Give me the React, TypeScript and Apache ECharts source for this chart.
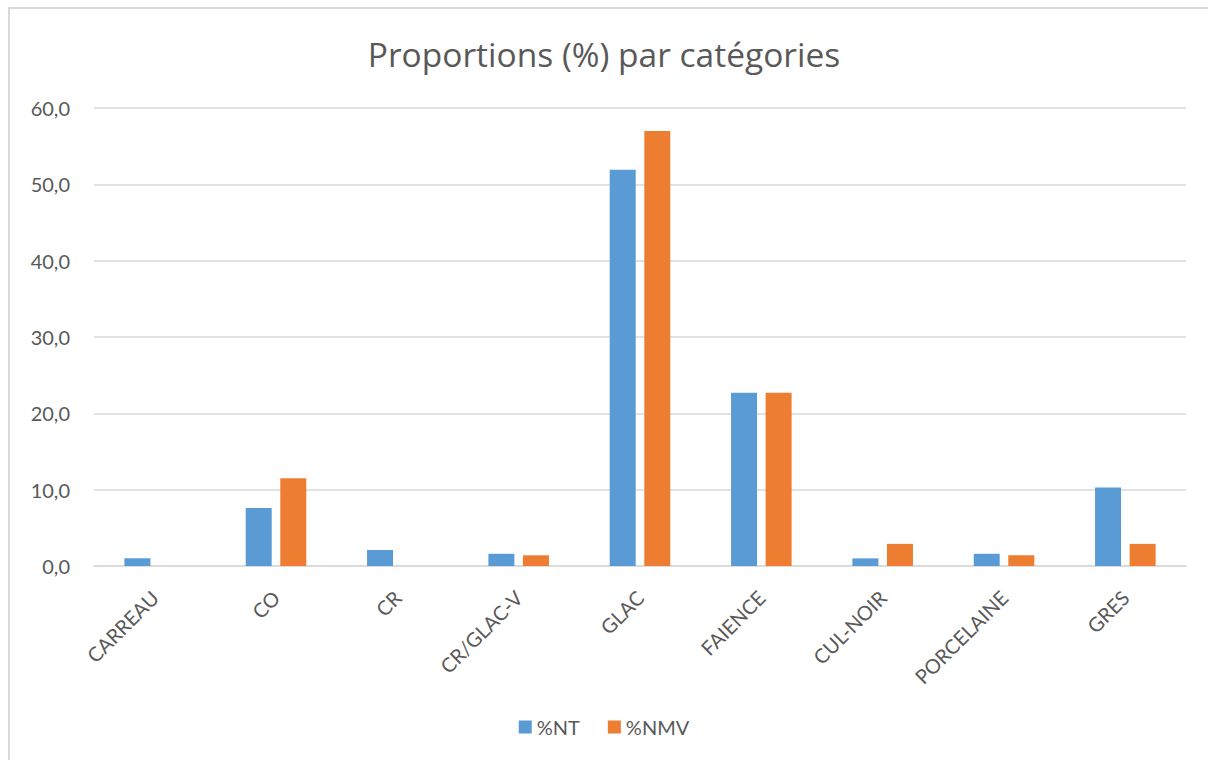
import React, { useEffect, useRef } from "react";
import * as echarts from "echarts";

const categories = ["CARREAU", "CO", "CR", "CR/GLAC-V", "GLAC", "FAIENCE", "CUL-NOIR", "PORCELAINE", "GRES"];
const seriesNT = [1.0, 7.6, 2.1, 1.6, 51.9, 22.7, 1.0, 1.6, 10.3];
const seriesNMV = [0, 11.5, 0, 1.4, 57.0, 22.7, 2.9, 1.4, 2.9];
const seriesNames = ["%NT", "%NMV"];
const yTicks = { min: 0, max: 60, interval: 10 };

const FONT = "Lato, 'Open Sans', sans-serif";
const TXT = "#595959";

export default function App() {
  const ref = useRef<HTMLDivElement>(null);
  useEffect(() => {
    document.body.style.margin = "0";
    if (!ref.current) return;
    const chart = echarts.init(ref.current, null, { renderer: "svg" });
    chart.setOption({
      animation: false,
      backgroundColor: "#ffffff",
      textStyle: { fontFamily: FONT },
      title: {
        text: "Proportions (%) par catégories",
        left: "center",
        top: 32,
        textStyle: { fontFamily: "'Open Sans', Lato, sans-serif", fontSize: 33.5, fontWeight: "normal", color: TXT },
      },
      graphic: [
        {
          type: "rect",
          shape: { x: 9, y: 8, width: 1210, height: 770 },
          style: { fill: "none", stroke: "#d9d9d9", lineWidth: 2 },
          silent: true,
        },
      ],
      legend: {
        bottom: 18,
        left: "center",
        icon: "rect",
        itemWidth: 13,
        itemHeight: 13,
        itemGap: 28,
        textStyle: { fontFamily: FONT, fontSize: 20, color: TXT },
        data: seriesNames,
      },
      grid: { left: 94, right: 22, top: 108, bottom: 194, containLabel: false },
      xAxis: {
        type: "category",
        data: categories,
        axisLine: { lineStyle: { color: "#d9d9d9", width: 1.5 } },
        axisTick: { show: false },
        axisLabel: { rotate: 45, fontFamily: FONT, fontSize: 20, color: TXT, margin: 28, interval: 0 },
      },
      yAxis: {
        type: "value",
        min: yTicks.min,
        max: yTicks.max,
        interval: yTicks.interval,
        axisLine: { show: false },
        axisTick: { show: false },
        splitLine: { lineStyle: { color: "#d9d9d9", width: 1.5 } },
        axisLabel: {
          fontFamily: FONT,
          fontSize: 20,
          color: TXT,
          margin: 24,
          formatter: (v: number) => v.toFixed(1).replace(".", ","),
        },
      },
      series: [
        {
          name: seriesNames[0],
          type: "bar",
          data: seriesNT,
          barWidth: 26,
          barGap: "33%",
          itemStyle: { color: "#5B9BD5" },
        },
        {
          name: seriesNames[1],
          type: "bar",
          data: seriesNMV,
          barWidth: 26,
          barGap: "33%",
          itemStyle: { color: "#ED7D31" },
        },
      ],
    });
    return () => chart.dispose();
  }, []);
  return <div ref={ref} style={{ width: 1208, height: 760 }} />;
}
